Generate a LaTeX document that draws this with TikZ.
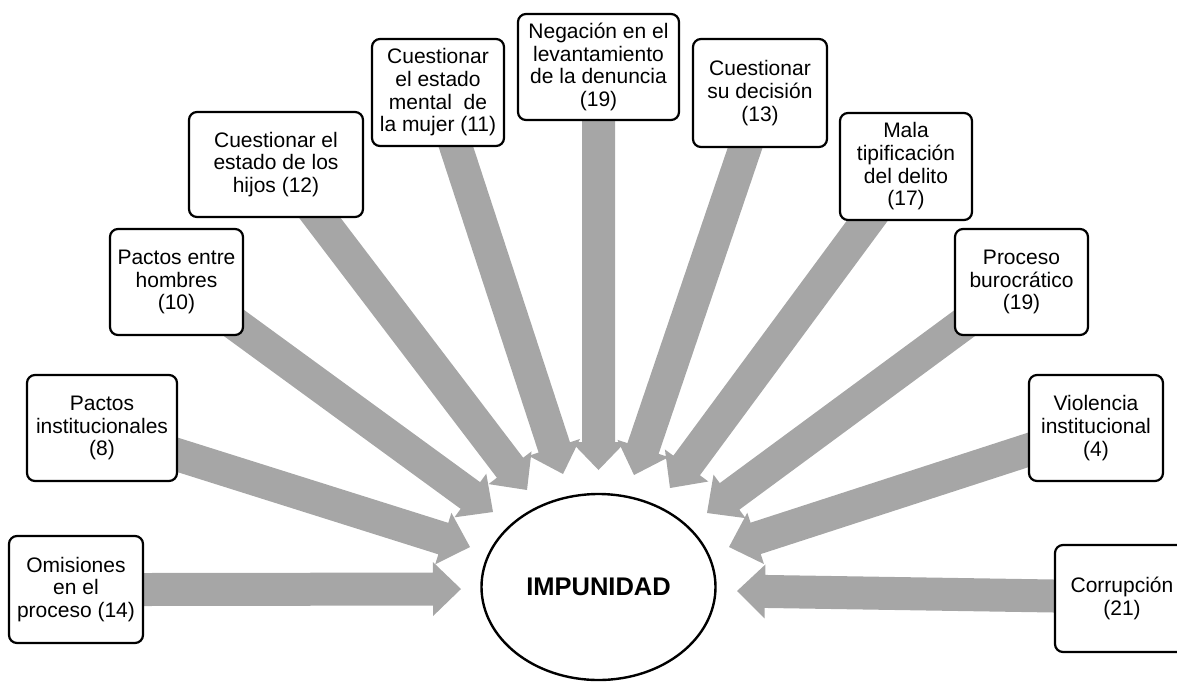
\documentclass[tikz,border=0pt]{standalone}
\usepackage{fontspec}
\setmainfont{Liberation Sans}
\usetikzlibrary{calc,shapes.geometric}
\pgfdeclarelayer{bg}
\pgfsetlayers{bg,main}
\definecolor{arrowgray}{RGB}{166,166,166}

% block arrow: #1 = point where the shaft leaves its box, #2 = tip
\newcommand\blockarrow[2]{%
  \coordinate (T) at ($(#1)!-30pt!(#2)$);
  \coordinate (H) at ($(#2)!28pt!(#1)$);
  \fill[arrowgray]
    ($(T)!16.5pt!90:(#2)$) -- ($(H)!16.5pt!90:(#2)$) -- ($(H)!27pt!90:(#2)$)
    -- (#2)
    -- ($(H)!27pt!-90:(#2)$) -- ($(H)!16.5pt!-90:(#2)$) -- ($(T)!16.5pt!-90:(#2)$)
    -- cycle;
}

\begin{document}
\begin{tikzpicture}[x=1pt,y=-1pt,
  cause/.style={draw=black, line width=2.2pt, rounded corners=8pt, fill=white,
    align=center, inner sep=0pt, minimum height=106pt,
    font=\fontsize{21pt}{22.7pt}\selectfont},
  centre/.style={draw=black, line width=2.4pt, ellipse, fill=white, inner sep=0pt,
    minimum width=234pt, minimum height=186pt,
    font=\fontsize{25.5pt}{28pt}\selectfont\bfseries}
]
\useasboundingbox (0,0) rectangle (1177,681);

% central effect
\node[centre] (imp) at (598.5,587) {IMPUNIDAD};

% causes
\node[cause, minimum width=134pt, minimum height=107pt] (omis) at (76,589.5) {Omisiones\\en el\\proceso (14)};
\node[cause, minimum width=150pt] (pinst) at (102,428) {Pactos\\institucionales\\(8)};
\node[cause, minimum width=133pt] (phom) at (176.5,282) {Pactos entre\\hombres\\(10)};
\node[cause, minimum width=174pt, minimum height=105pt] (hijos) at (276,164.5) {Cuestionar el\\estado de los\\hijos (12)};
\node[cause, minimum width=132pt, minimum height=107pt] (mental) at (438,92.5) {Cuestionar\\el estado\\mental\ \ de\\la mujer (11)};
\node[cause, minimum width=161pt] (neg) at (598.5,67) {Negación en el\\levantamiento\\de la denuncia\\(19)};
\node[cause, minimum width=134pt, minimum height=108pt] (sudec) at (760,93) {Cuestionar\\su decisión\\(13)};
\node[cause, minimum width=132pt, minimum height=107pt] (mala) at (906,166.5) {Mala\\tipificación\\del delito\\(17)};
\node[cause, minimum width=133pt] (proc) at (1021.5,282) {Proceso\\burocrático\\(19)};
\node[cause, minimum width=134pt] (viol) at (1096,428) {Violencia\\institucional\\(4)};
\node[cause, minimum width=134pt, minimum height=107pt] (corr) at (1122,598.5) {Corrupción\\(21)};

% where each arrow leaves its box
\coordinate (omisOut)   at (omis.east);
\coordinate (pinstOut)  at ($(pinst.east)+(0,27)$);
\coordinate (phomOut)   at ($(phom.south east)+(-10,-13)$);
\coordinate (hijosOut)  at ($(hijos.south)+(44,0)$);
\coordinate (mentalOut) at ($(mental.south)+(18,0)$);
\coordinate (negOut)    at (neg.south);
\coordinate (sudecOut)  at ($(sudec.south)+(-15,0)$);
\coordinate (malaOut)   at ($(mala.south)+(-39,0)$);
\coordinate (procOut)   at ($(proc.south west)+(4,-8)$);
\coordinate (violOut)   at ($(viol.west)+(0,22)$);
\coordinate (corrOut)   at ($(corr.west)+(0,-2.5)$);

% arrow tips around the ellipse
\coordinate (omisTip)   at (461,589);
\coordinate (pinstTip)  at (470,547);
\coordinate (phomTip)   at (493,512);
\coordinate (hijosTip)  at (527,490);
\coordinate (mentalTip) at (563,474);
\coordinate (negTip)    at (598.5,470);
\coordinate (sudecTip)  at (634,475);
\coordinate (malaTip)   at (670,488);
\coordinate (procTip)   at (707,513);
\coordinate (violTip)   at (729,547);
\coordinate (corrTip)   at (737,591);

\begin{pgfonlayer}{bg}
  \blockarrow{omisOut}{omisTip}
  \blockarrow{pinstOut}{pinstTip}
  \blockarrow{phomOut}{phomTip}
  \blockarrow{hijosOut}{hijosTip}
  \blockarrow{mentalOut}{mentalTip}
  \blockarrow{negOut}{negTip}
  \blockarrow{sudecOut}{sudecTip}
  \blockarrow{malaOut}{malaTip}
  \blockarrow{procOut}{procTip}
  \blockarrow{violOut}{violTip}
  \blockarrow{corrOut}{corrTip}
\end{pgfonlayer}
\end{tikzpicture}
\end{document}
